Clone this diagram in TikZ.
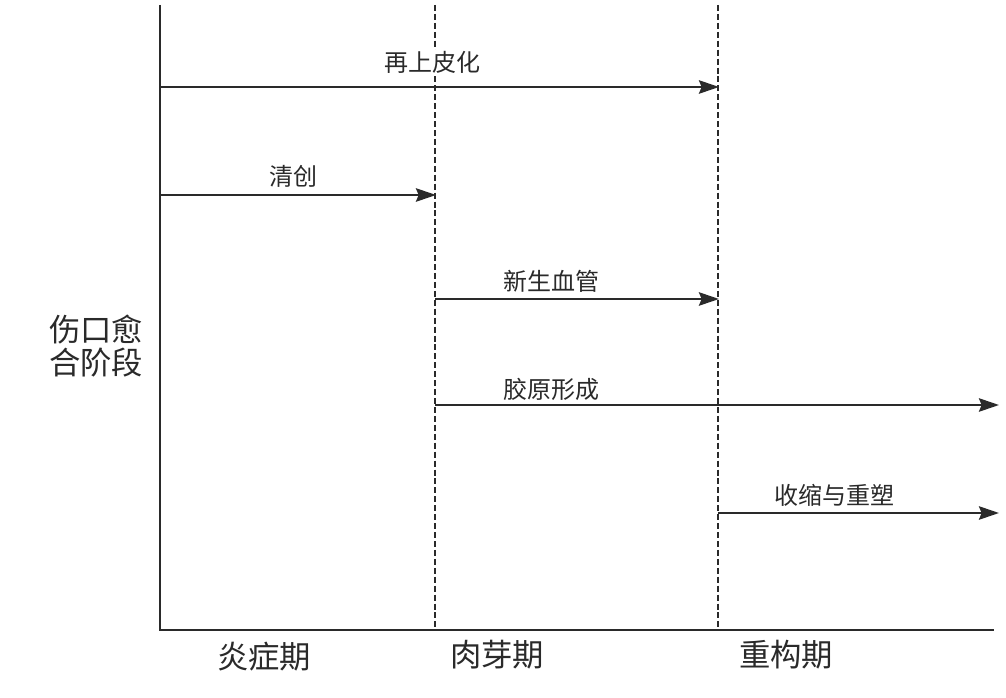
\documentclass[tikz,border=0pt]{standalone}
\usepackage{fontspec}
\setmainfont{Noto Sans CJK SC}
\usetikzlibrary{arrows.meta}
\definecolor{ink}{HTML}{2A2A2A}
\begin{document}
\begin{tikzpicture}[x=0.75pt,y=-0.75pt,
  axisline/.style={draw=ink,line width=1.9pt},
  phaseline/.style={draw=ink,line width=1.8pt,dash pattern=on 4.5pt off 2.2pt},
  procarrow/.style={draw=ink,line width=1.9pt,-{Stealth[length=15pt,width=10pt,inset=2pt]}},
  proclabel/.style={font=\fontsize{18}{21}\selectfont,text=ink,fill=white,inner sep=1pt},
  phaselabel/.style={font=\fontsize{23.5}{27}\selectfont,text=ink,inner sep=1pt},
  ylabel/.style={font=\fontsize{23.5}{25}\selectfont,text=ink,align=center,inner sep=0pt}]
\useasboundingbox[fill=white] (0,0) rectangle (1006,698);
% axes
\coordinate (ytop) at (160,5);
\coordinate (origin) at (160,630);
\coordinate (xend) at (994,630);
\draw[axisline] (ytop) -- (origin) -- (xend);
% phase boundaries
\coordinate (d1top) at (435,5);
\coordinate (d1bot) at (435,630);
\coordinate (d2top) at (718,5);
\coordinate (d2bot) at (718,630);
\draw[phaseline] (d1top) -- (d1bot);
\draw[phaseline] (d2top) -- (d2bot);
% processes
\coordinate (a1s) at (160,87);  \coordinate (a1e) at (719,87);
\coordinate (a2s) at (160,195); \coordinate (a2e) at (436,195);
\coordinate (a3s) at (435,299); \coordinate (a3e) at (719,299);
\coordinate (a4s) at (435,405); \coordinate (a4e) at (999,405);
\coordinate (a5s) at (718,513); \coordinate (a5e) at (999,513);
\draw[procarrow] (a1s) -- (a1e);
\draw[procarrow] (a2s) -- (a2e);
\draw[procarrow] (a3s) -- (a3e);
\draw[procarrow] (a4s) -- (a4e);
\draw[procarrow] (a5s) -- (a5e);
\node[proclabel] (l1) at (432,62) {再上皮化};
\node[proclabel] (l2) at (293,176) {清创};
\node[proclabel] (l3) at (551,281) {新生血管};
\node[proclabel] (l4) at (551,389) {胶原形成};
\node[proclabel] (l5) at (834,495) {收缩与重塑};
% phases
\node[phaselabel] (p1) at (264,657) {炎症期};
\node[phaselabel] (p2) at (497,655) {肉芽期};
\node[phaselabel] (p3) at (786,655) {重构期};
% y label
\node[ylabel] (yl) at (96,346) {伤口愈\\合阶段};
\end{tikzpicture}
\end{document}
